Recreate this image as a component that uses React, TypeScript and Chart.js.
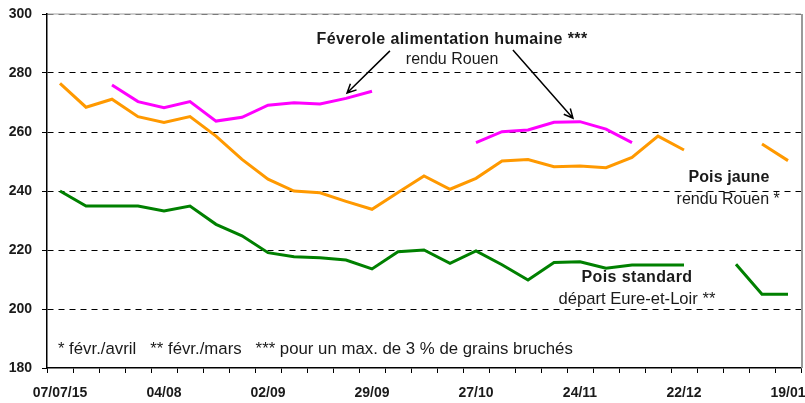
import React, { useEffect, useRef } from "react";
import { Chart, registerables } from "chart.js";

Chart.register(...registerables);

const weeks = [
  "07/07/15", "14/07", "21/07", "28/07", "04/08", "11/08", "18/08", "25/08",
  "02/09", "08/09", "15/09", "22/09", "29/09", "06/10", "13/10", "20/10",
  "27/10", "03/11", "10/11", "17/11", "24/11", "01/12", "08/12", "15/12",
  "22/12", "29/12", "05/01", "12/01", "19/01",
];

const poisJaune = [
  276.5, 268.4, 271.1, 265.2, 263.2, 265.2, 258.6, 250.7,
  244.0, 240.0, 239.4, 236.5, 233.8, 239.5, 245.1, 240.6,
  244.3, 250.2, 250.7, 248.2, 248.5, 247.9, 251.4, 258.6,
  253.9, null, null, 255.9, 250.3,
];

const poisStandard = [
  240.0, 234.9, 234.9, 234.9, 233.2, 234.9, 228.7, 224.8,
  219.1, 217.7, 217.4, 216.6, 213.6, 219.4, 220.0, 215.5,
  219.7, 215.0, 209.8, 215.8, 216.0, 213.8, 214.9, 214.9,
  214.9, null, 215.2, 205.0, 205.0,
];

const feverole = [
  null, null, 275.9, 270.3, 268.2, 270.3, 263.7, 265.0,
  269.1, 269.9, 269.5, 271.4, 273.8, null, null, null,
  256.4, 260.1, 260.7, 263.3, 263.5, 261.0, 256.4, null,
  null, null, null, null, null,
];

const yTicks = [180, 200, 220, 240, 260, 280, 300];

const FONT = "'Liberation Sans', Arial, sans-serif";

// annotations: [text, category index, value, font, align, letter spacing]
const labelNotes: [string, number, number, string, CanvasTextAlign, string][] = [
  ["Féverole alimentation humaine ***", 15.08, 291.2, `bold 16px ${FONT}`, "center", "0.4px"],
  ["rendu Rouen", 15.08, 284.4, `16px ${FONT}`, "center", "0px"],
  ["Pois jaune", 25.73, 244.4, `bold 16px ${FONT}`, "center", "0.1px"],
  ["rendu Rouen *", 25.7, 237.0, `16px ${FONT}`, "center", "0px"],
  ["Pois standard", 22.19, 210.8, `bold 16px ${FONT}`, "center", "0.4px"],
  ["départ Eure-et-Loir **", 22.19, 203.4, `16.6px ${FONT}`, "center", "0px"],
  ["* févr./avril   ** févr./mars   *** pour un max. de 3 % de grains bruchés", -0.08, 186.4, `16.8px ${FONT}`, "left", "0px"],
];

// arrows: [from index, from value, to index, to value]
const arrowNotes: [number, number, number, number][] = [
  [12.69, 287.5, 11.04, 273.2],
  [17.42, 287.8, 19.73, 264.7],
];

const overlay = {
  id: "overlay",
  beforeDraw(chart: any) {
    const { ctx, chartArea } = chart;
    const y = chart.scales.y.getPixelForValue(300);
    ctx.save();
    ctx.strokeStyle = "#cfcfcf";
    ctx.lineWidth = 2;
    ctx.beginPath();
    ctx.moveTo(chartArea.left, y);
    ctx.lineTo(chartArea.right, y);
    ctx.stroke();
    ctx.restore();
  },
  afterDraw(chart: any) {
    const { ctx, chartArea } = chart;
    const xs = chart.scales.x;
    const ys = chart.scales.y;
    ctx.save();
    // right border
    ctx.strokeStyle = "#9a9a9a";
    ctx.lineWidth = 2;
    ctx.beginPath();
    ctx.moveTo(chartArea.right + 1, chartArea.top);
    ctx.lineTo(chartArea.right + 1, chartArea.bottom);
    ctx.stroke();

    ctx.fillStyle = "#1a1a1a";
    ctx.textBaseline = "middle";
    for (const [t, xi, yv, f, al, ls] of labelNotes) {
      ctx.font = f;
      ctx.textAlign = al;
      (ctx as any).letterSpacing = ls;
      ctx.fillText(t, xs.getPixelForValue(xi), ys.getPixelForValue(yv));
    }
    (ctx as any).letterSpacing = "0px";

    ctx.strokeStyle = "#000";
    ctx.lineWidth = 1.5;
    for (const [a, b, c, d] of arrowNotes) {
      const x1 = xs.getPixelForValue(a), y1 = ys.getPixelForValue(b);
      const x2 = xs.getPixelForValue(c), y2 = ys.getPixelForValue(d);
      const ang = Math.atan2(y2 - y1, x2 - x1);
      const hl = 10, ha = 0.45;
      ctx.beginPath();
      ctx.moveTo(x1, y1);
      ctx.lineTo(x2, y2);
      ctx.moveTo(x2 - hl * Math.cos(ang - ha), y2 - hl * Math.sin(ang - ha));
      ctx.lineTo(x2, y2);
      ctx.lineTo(x2 - hl * Math.cos(ang + ha), y2 - hl * Math.sin(ang + ha));
      ctx.stroke();
    }
    ctx.restore();
  },
};

export default function App() {
  const ref = useRef<HTMLCanvasElement>(null);
  useEffect(() => {
    if (!ref.current) return;
    const mk = (label: string, data: (number | null)[], color: string) => ({
      label,
      data,
      borderColor: color,
      backgroundColor: color,
      borderWidth: 3,
      pointRadius: 0,
      tension: 0,
      spanGaps: false,
    });
    const chart = new Chart(ref.current, {
      type: "line",
      data: {
        labels: weeks,
        datasets: [
          mk("Pois jaune rendu Rouen", poisJaune, "#ff9900"),
          mk("Pois standard départ Eure-et-Loir", poisStandard, "#008000"),
          mk("Féverole alimentation humaine rendu Rouen", feverole, "#ff00ff"),
        ],
      },
      options: {
        animation: false,
        responsive: true,
        maintainAspectRatio: false,
        layout: { padding: { left: 0, right: 4, top: 14, bottom: 0 } },
        plugins: { legend: { display: false }, tooltip: { enabled: false } },
        scales: {
          x: {
            type: "category",
            offset: true,
            grid: {
              offset: true,
              drawOnChartArea: false,
              drawTicks: true,
              tickLength: 5,
              color: "#000",
              tickColor: "#000",
            },
            border: { display: true, color: "#000", width: 1.5 },
            ticks: {
              autoSkip: false,
              maxRotation: 0,
              minRotation: 0,
              padding: 12,
              color: "#1a1a1a",
              font: { family: FONT, size: 14, weight: "bold" },
              callback: (v: any, i: number) => (i % 4 === 0 ? weeks[i] : ""),
            },
            afterFit: (s: any) => {
              s.height = 35;
              s.paddingLeft = 0;
              s.paddingRight = 0;
            },
          },
          y: {
            min: 180,
            max: 300,
            afterBuildTicks: (s: any) => {
              s.ticks = yTicks.map((v) => ({ value: v }));
            },
            grid: {
              color: (c: any) =>
                c.tick && c.tick.value === 300 ? "#7a7a7a" : c.tick && c.tick.value === 180 ? "rgba(0,0,0,0)" : "#000",
              tickColor: "#000",
              tickLength: 5,
              lineWidth: 1,
            },
            border: { display: true, color: "#000", width: 1.5, dash: [6, 5] },
            ticks: {
              padding: 10,
              color: "#1a1a1a",
              font: { family: FONT, size: 14, weight: "bold" },
            },
            afterFit: (s: any) => {
              s.width = 47;
              s.paddingTop = 0;
              s.paddingBottom = 0;
            },
          },
        },
      },
      plugins: [overlay],
    });
    return () => chart.destroy();
  }, []);
  return (
    <div style={{ position: "absolute", left: 0, top: 0, width: 805, height: 403, background: "#fff" }}>
      <canvas ref={ref} />
    </div>
  );
}
